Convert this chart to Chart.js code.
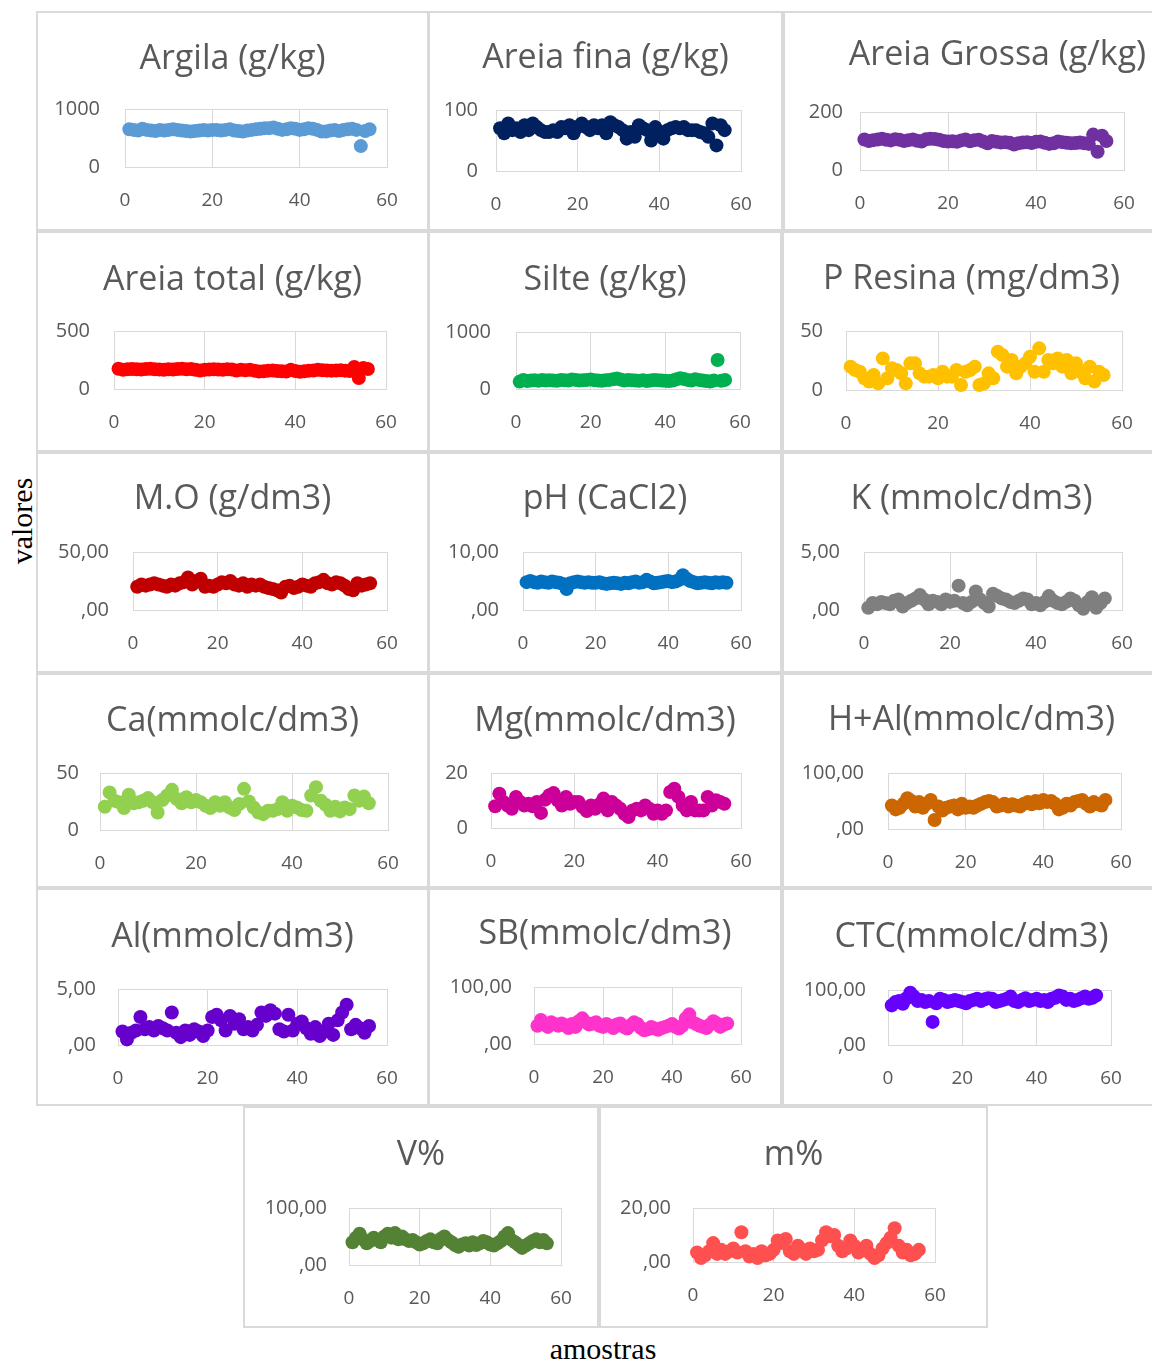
<!DOCTYPE html>
<html lang="pt">
<head>
    <meta charset="UTF-8">
    <title>Atributos do solo por amostra</title>
    <script src="https://cdn.jsdelivr.net/npm/chart.js"></script>
    <style>
        body { margin: 0; background: #fff; width: 1152px; height: 1362px; overflow: hidden; position: relative; }
        .panel { position: absolute; box-sizing: border-box; border: 2px solid #d9d9d9; background: #fff; }
        canvas { position: absolute; }
        .eixo { position: absolute; font-family: "Liberation Serif", "Times New Roman", serif; font-size: 30px; color: #000; text-align: center; }
        #valores { left: -48px; top: 503px; width: 140px; height: 36px; line-height: 36px; transform: rotate(-90deg); }
        #amostras { left: 503px; top: 1331px; width: 200px; height: 36px; line-height: 36px; }
    </style>
</head>
<body>
    <div id="valores" class="eixo">valores</div>
    <div id="amostras" class="eixo">amostras</div>

    <script>
        // numero da amostra (eixo x)
        const amostras = [1,2,3,4,5,6,7,8,9,10,11,12,13,14,15,16,17,18,19,20,21,22,23,24,25,26,27,28,29,30,
            31,32,33,34,35,36,37,38,39,40,41,42,43,44,45,46,47,48,49,50,51,52,53,54,55,56];
        const xTicks = [0, 20, 40, 60];

        const argila = [650,640,630,660,640,630,620,640,630,640,650,640,630,620,610,620,630,640,630,640,640,630,640,650,630,620,610,630,640,650,660,670,670,680,660,640,650,670,660,640,650,670,660,640,610,610,630,640,620,640,650,660,640,360,620,650];
        const areiaFina = [70,62,78,67,70,64,75,67,78,72,67,64,64,67,64,72,70,75,62,72,78,72,67,75,70,75,62,80,75,72,67,53,64,56,75,70,67,50,72,64,53,67,70,72,70,72,67,67,67,64,62,56,78,42,75,67];
        const areiaGrossa = [105,100,103,105,108,104,102,106,104,100,103,105,101,98,106,108,107,104,100,98,99,97,102,105,99,103,104,98,92,100,97,95,96,94,88,92,95,96,93,97,98,94,90,92,98,96,94,92,93,95,92,90,122,63,118,100];
        const areiaTotal = [175,165,170,172,170,168,172,175,170,168,165,170,168,172,175,170,172,165,160,165,168,170,168,165,170,168,160,165,162,165,158,150,152,158,160,155,152,150,165,155,148,152,158,160,165,162,160,158,160,162,158,155,190,95,180,172];
        const silte = [130,160,140,150,155,145,160,150,155,150,145,160,155,150,165,160,150,155,160,165,155,150,145,155,160,170,185,165,150,160,155,150,145,155,140,150,160,155,150,145,140,150,170,190,175,160,150,170,160,150,140,130,150,510,145,160];
        const pResina = [19.8,16.9,15.5,9.9,7.1,12.7,5.6,26.8,9.9,18.4,16.9,14.1,5.6,22.6,22.6,14.1,11.3,11.3,12.7,9.9,15.5,11.3,11.3,16.9,4.2,15.5,16.9,19.8,4.2,5.6,14.1,9.9,32.5,29.7,19.8,25.4,14.1,19.8,22.6,28.2,15.5,35.3,15.5,25.4,22.6,26.8,19.8,25.4,14.1,22.6,15.5,9.9,19.8,7.1,15.5,12.7];
        const materiaOrganica = [20,22,21,22,23,22,21,20,22,21,23,24,28,22,25,27,20,21,20,22,24,23,25,22,21,23,20,22,21,22,20,19,18,17,15,20,21,19,20,22,21,20,23,24,26,23,22,24,23,21,18,17,23,21,22,23];
        const ph = [4.8,5.0,4.8,4.7,4.9,4.8,4.7,4.9,4.8,4.7,4.5,3.6,4.6,4.8,4.9,4.8,4.7,4.8,4.7,4.7,4.8,4.6,4.5,4.6,4.7,4.6,4.5,4.7,4.6,4.8,4.9,4.7,4.8,5.2,4.9,4.6,4.7,4.8,4.9,5.0,4.8,4.9,5.2,6.0,5.4,5.0,4.8,4.6,4.7,4.8,4.7,4.6,4.8,4.7,4.8,4.7];
        const potassio = [0.2,0.6,0.5,0.7,0.6,0.5,0.8,0.9,0.3,0.6,0.8,1.0,1.3,0.9,0.5,0.8,0.7,0.5,0.9,0.7,0.8,2.1,0.6,0.4,0.7,1.6,0.9,0.6,0.3,1.4,1.2,1.0,0.9,0.7,0.6,0.8,1.0,0.9,0.5,0.6,0.4,0.7,1.2,0.8,0.6,0.5,0.7,1.0,0.8,0.4,0.1,0.7,1.1,0.2,0.6,1.0];
        const calcio = [20.4,33,25.7,24.3,19.2,31,23.4,24.3,25.7,28,24.3,15.4,26.3,30.2,35.2,27.2,23.4,28.7,24.3,26.3,24.3,21.3,19.2,24.3,21.3,24.3,19.8,17.5,22.8,36.1,25.1,19.8,15.4,13.9,16.9,16.9,18.3,24.3,16.9,21.3,19.8,17.5,16.9,30.2,37.6,25.7,22.2,16.9,20.4,16.3,19.8,18.3,30.2,25.7,29.3,23.4];
        const magnesio = [7.9,12.5,9.5,8.2,7.0,11.3,9.5,8.2,8.8,7.9,9.5,5.5,10.3,11.9,12.7,10.1,8.2,11.3,8.8,9.5,9.5,7.6,6.2,8.2,7.0,8.6,10.7,6.4,9.5,8.2,7.0,5.2,4.0,6.4,7.0,6.4,8.2,7.0,5.2,6.4,5.2,6.4,13.1,14.3,11.3,8.2,6.4,9.5,6.4,6.4,6.4,11.3,8.2,10.1,9.5,8.8];
        const hAl = [42,35,38,45,55,50,40,48,38,45,52,16,40,33,38,40,42,35,45,38,40,38,42,45,48,50,48,40,42,45,40,44,42,40,45,48,44,50,46,52,48,50,45,35,38,45,42,48,50,52,45,40,48,44,42,52];
        const aluminio = [1.2,0.5,1.1,1.3,2.5,1.4,1.6,1.3,1.7,1.5,1.3,2.9,1.1,0.7,1.3,0.9,1.4,1.2,0.8,1.3,2.5,2.7,2.2,1.3,2.6,1.9,2.3,1.4,1.6,1.3,1.8,2.9,2.6,3.1,2.8,1.4,1.2,2.7,1.3,1.9,2.1,1.5,1.0,1.6,0.8,1.2,1.9,0.9,2.2,2.9,3.6,1.4,1.8,1.5,1.1,1.7];
        const somaBases = [32,42,34,30,38,35,32,36,33,28,35,30,40,45,38,34,36,38,32,30,35,32,28,34,36,30,27,33,38,35,28,24,26,30,27,25,28,30,32,35,30,27,32,45,52,38,35,32,30,28,34,40,36,30,34,36];
        const ctc = [72,78,80,75,85,95,88,80,82,78,80,42,76,84,82,78,80,82,80,78,76,80,82,84,80,83,85,84,78,80,82,84,88,80,78,82,85,80,82,84,80,82,78,84,86,90,88,82,84,80,82,85,88,84,86,90];
        const saturacaoV = [40,48,55,45,38,42,48,44,40,50,55,48,56,45,50,45,42,44,40,36,38,42,45,40,38,46,50,44,40,35,32,36,38,34,40,35,38,42,40,36,34,38,42,50,56,44,40,35,30,34,38,42,45,40,44,38];
        const saturacaoM = [3.5,1.5,2.5,4,7,3,4.5,3,4,5,3.5,11,4,2,3,1.5,4,2.5,3,4.5,8,7,8.5,4,3,6,4.5,3,5,4,4.5,8,11,9.5,10,6,4,5,8,6,3.5,4.5,6,3,1.5,2.5,5,7,9,12.5,6,3.5,4.5,2.5,3,4.5];

        // eixo y de cada grafico: so 0 e o maximo
        const yMax = [1000, 100, 200, 500, 1000, 50, 50, 10, 5, 50, 20, 100, 5, 100, 100, 100, 20];
        const titulos = ['Argila (g/kg)', 'Areia fina (g/kg)', 'Areia Grossa (g/kg)', 'Areia total (g/kg)', 'Silte (g/kg)',
            'P Resina (mg/dm3)', 'M.O (g/dm3)', 'pH (CaCl2)', 'K (mmolc/dm3)', 'Ca(mmolc/dm3)', 'Mg(mmolc/dm3)',
            'H+Al(mmolc/dm3)', 'Al(mmolc/dm3)', 'SB(mmolc/dm3)', 'CTC(mmolc/dm3)', 'V%', 'm%'];
        const series = [argila, areiaFina, areiaGrossa, areiaTotal, silte, pResina, materiaOrganica, ph, potassio,
            calcio, magnesio, hAl, aluminio, somaBases, ctc, saturacaoV, saturacaoM];

        // aparencia e posicao de cada painel (caixa = borda do painel, area = caixa do grafico)
        const paineis = [
            { cor: '#5b9bd5', dec: false, caixa: [36, 11, 429, 231],   area: [125, 109, 387, 167],  tc: 59,   py: 25 },
            { cor: '#002060', dec: false, caixa: [428, 11, 783, 231],  area: [496, 110, 741, 171],  tc: 58,   py: 18 },
            { cor: '#7030a0', dec: false, caixa: [783, 11, 1212, 231], area: [860, 112, 1124, 170], tc: 55,   py: 17 },
            { cor: '#ff0000', dec: false, caixa: [36, 231, 429, 452],  area: [114, 331, 386, 389],  tc: 280,  py: 24 },
            { cor: '#00b050', dec: false, caixa: [428, 231, 782, 452], area: [516, 332, 740, 389],  tc: 280,  py: 25 },
            { cor: '#ffc000', dec: false, caixa: [782, 231, 1161, 452], area: [846, 331, 1122, 390], tc: 279, py: 23 },
            { cor: '#c00000', dec: true,  caixa: [36, 452, 429, 673],  area: [133, 552, 387, 610],  tc: 499,  py: 24 },
            { cor: '#0070c0', dec: true,  caixa: [428, 452, 782, 673], area: [523, 552, 741, 610],  tc: 499,  py: 24 },
            { cor: '#7f7f7f', dec: true,  caixa: [782, 452, 1161, 673], area: [864, 552, 1122, 610], tc: 499, py: 24 },
            { cor: '#92d050', dec: false, caixa: [36, 673, 429, 888],  area: [100, 773, 388, 830],  tc: 721,  py: 21 },
            { cor: '#cc0099', dec: false, caixa: [428, 673, 782, 888], area: [491, 773, 741, 828],  tc: 721,  py: 23 },
            { cor: '#cc6600', dec: true,  caixa: [782, 673, 1161, 888], area: [888, 773, 1121, 829], tc: 720, py: 24 },
            { cor: '#6600cc', dec: true,  caixa: [36, 888, 429, 1106], area: [118, 989, 387, 1045], tc: 937,  py: 22 },
            { cor: '#ff33cc', dec: true,  caixa: [428, 888, 782, 1106], area: [534, 987, 741, 1044], tc: 934, py: 22 },
            { cor: '#6600ff', dec: true,  caixa: [782, 888, 1161, 1106], area: [888, 990, 1111, 1045], tc: 937, py: 22 },
            { cor: '#548235', dec: true,  caixa: [243, 1106, 599, 1328], area: [349, 1208, 561, 1265], tc: 1155, py: 22 },
            { cor: '#ff5050', dec: true,  caixa: [599, 1106, 988, 1328], area: [693, 1208, 935, 1262], tc: 1155, py: 22 }
        ];

        const cinza = '#595959';
        const grade = '#d9d9d9';
        const TITLE_SIZE = 34, TITLE_LH = 1.2;

        function formatoY(dec) {
            return v => dec ? (v === 0 ? ',00' : v.toFixed(2).replace('.', ',')) : String(v);
        }

        paineis.forEach((p, i) => {
            const [L, T, R, B] = p.caixa;
            const [pl, pt, pr, pb] = p.area;
            const W = R - L, H = B - T;

            const div = document.createElement('div');
            div.className = 'panel';
            Object.assign(div.style, { left: L + 'px', top: T + 'px', width: W + 'px', height: H + 'px' });
            document.body.appendChild(div);

            const canvas = document.createElement('canvas');
            canvas.width = W;
            canvas.height = H;
            Object.assign(canvas.style, { left: L + 'px', top: T + 'px', width: W + 'px', height: H + 'px' });
            document.body.appendChild(canvas);

            const titleBox = TITLE_SIZE * TITLE_LH;
            const padTop = p.tc - T - titleBox / 2;
            const padBottom = (pt - T) - padTop - titleBox;

            new Chart(canvas, {
                type: 'scatter',
                data: {
                    datasets: [{
                        data: amostras.map((x, k) => ({ x: x, y: series[i][k] })),
                        backgroundColor: p.cor,
                        borderColor: p.cor,
                        borderWidth: 0,
                        pointRadius: 7,
                        pointHoverRadius: 7,
                        clip: false
                    }]
                },
                options: {
                    responsive: false,
                    animation: false,
                    events: [],
                    layout: { padding: 0 },
                    plugins: {
                        legend: { display: false },
                        tooltip: { enabled: false },
                        title: {
                            display: true,
                            text: titulos[i],
                            color: cinza,
                            font: { family: 'Open Sans', size: TITLE_SIZE, weight: 'normal', lineHeight: TITLE_LH },
                            padding: { top: padTop, bottom: padBottom }
                        }
                    },
                    scales: {
                        x: {
                            type: 'linear',
                            min: xTicks[0],
                            max: xTicks[xTicks.length - 1],
                            afterBuildTicks: s => { s.ticks = xTicks.map(v => ({ value: v })); },
                            ticks: { color: cinza, font: { family: 'Open Sans', size: 19 }, padding: 22, maxRotation: 0 },
                            grid: { color: grade, drawTicks: false },
                            border: { color: grade },
                            afterFit: s => { s.height = B - pb; }
                        },
                        y: {
                            type: 'linear',
                            min: 0,
                            max: yMax[i],
                            afterBuildTicks: s => { s.ticks = [{ value: 0 }, { value: yMax[i] }]; },
                            ticks: { color: cinza, font: { family: 'Open Sans', size: 20 }, padding: p.py, callback: formatoY(p.dec) },
                            grid: { color: grade, drawTicks: false },
                            border: { color: grade },
                            afterFit: s => { s.width = pl - L; }
                        },
                        // margem a direita da area do grafico
                        margem: {
                            type: 'linear',
                            position: 'right',
                            ticks: { display: false },
                            grid: { display: false, drawTicks: false },
                            border: { display: false },
                            afterFit: s => { s.width = R - pr; }
                        }
                    }
                }
            });
        });
    </script>
</body>
</html>
